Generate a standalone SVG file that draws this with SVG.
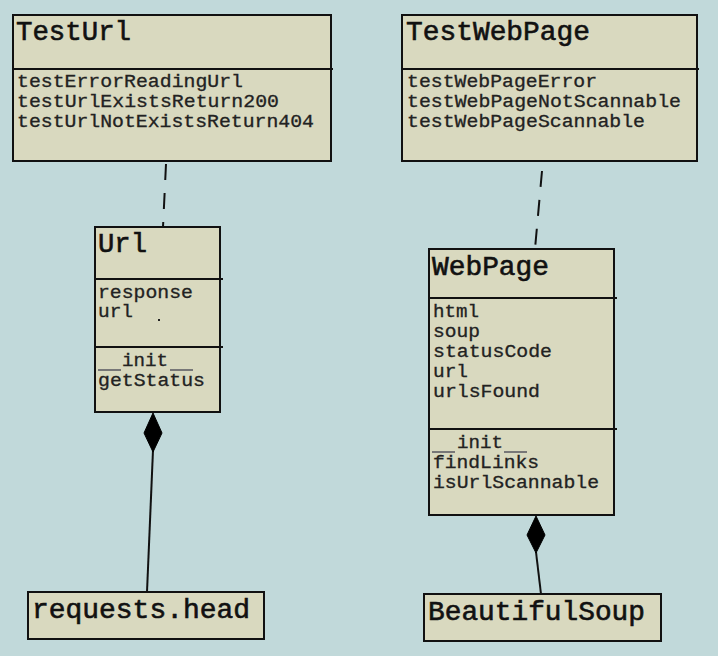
<svg xmlns="http://www.w3.org/2000/svg" width="718" height="656" viewBox="0 0 718 656">
<style>
.box{fill:#d9d9bf;stroke:#111;stroke-width:2}
.div{stroke:#111;stroke-width:2}
.t{font-family:"Liberation Mono","Courier New",monospace;font-size:27px;fill:#111;stroke:#111;stroke-width:0.6}
.m{font-family:"Liberation Mono","Courier New",monospace;font-size:18px;fill:#222;stroke:#222;stroke-width:0.3}
.us{stroke:#777;stroke-width:2}
.dash{stroke:#111;stroke-width:2;stroke-dasharray:16 13;fill:none}
.comp{stroke:#111;stroke-width:2;fill:none}
.dia{fill:#000;stroke:#000;stroke-width:1}
</style>
<rect width="718" height="656" fill="#c1d9da"/>
<g id="connectors">
<line class="dash" x1="166" y1="164" x2="163" y2="227"/>
<line class="dash" x1="542" y1="171" x2="535" y2="249"/>
<line class="comp" x1="153" y1="450" x2="147" y2="592"/>
<polygon class="dia" points="153,413 162,433 153,452 144,433"/>
<line class="comp" x1="536" y1="552" x2="541" y2="594"/>
<polygon class="dia" points="536,516 545,535 536,553 527,535"/>
</g>
<g id="TestUrl">
<rect class="box" x="13" y="15" width="318" height="146"/>
<line class="div" x1="13" y1="69" x2="333" y2="69"/>
<text class="t" x="16" y="40" textLength="115" lengthAdjust="spacingAndGlyphs">TestUrl</text>
<text class="m" x="17" y="87" textLength="226" lengthAdjust="spacingAndGlyphs">testErrorReadingUrl</text>
<text class="m" x="17" y="107" textLength="262" lengthAdjust="spacingAndGlyphs">testUrlExistsReturn200</text>
<text class="m" x="17" y="127" textLength="297" lengthAdjust="spacingAndGlyphs">testUrlNotExistsReturn404</text>
</g>
<g id="TestWebPage">
<rect class="box" x="402" y="15" width="295" height="146"/>
<line class="div" x1="402" y1="69" x2="699" y2="69"/>
<text class="t" x="406" y="40" textLength="184" lengthAdjust="spacingAndGlyphs">TestWebPage</text>
<text class="m" x="407" y="87" textLength="190" lengthAdjust="spacingAndGlyphs">testWebPageError</text>
<text class="m" x="407" y="107" textLength="274" lengthAdjust="spacingAndGlyphs">testWebPageNotScannable</text>
<text class="m" x="407" y="127" textLength="238" lengthAdjust="spacingAndGlyphs">testWebPageScannable</text>
</g>
<g id="Url">
<rect class="box" x="95" y="227" width="125" height="185"/>
<line class="div" x1="95" y1="279" x2="223" y2="279"/>
<line class="div" x1="95" y1="347" x2="223" y2="347"/>
<text class="t" x="98" y="252" textLength="49" lengthAdjust="spacingAndGlyphs">Url</text>
<text class="m" x="98" y="298" textLength="95" lengthAdjust="spacingAndGlyphs">response</text>
<text class="m" x="98" y="317" textLength="35" lengthAdjust="spacingAndGlyphs">url</text>
<rect x="158" y="319" width="2" height="2" fill="#222"/>
<text class="m" x="122" y="366" textLength="46" lengthAdjust="spacingAndGlyphs">init</text>
<line class="us" x1="98" y1="370" x2="121" y2="370"/>
<line class="us" x1="170" y1="370" x2="193" y2="370"/>
<text class="m" x="98" y="386" textLength="107" lengthAdjust="spacingAndGlyphs">getStatus</text>
</g>
<g id="WebPage">
<rect class="box" x="429" y="249" width="185" height="266"/>
<line class="div" x1="429" y1="298" x2="617" y2="298"/>
<line class="div" x1="429" y1="429" x2="617" y2="429"/>
<text class="t" x="432" y="275" textLength="117" lengthAdjust="spacingAndGlyphs">WebPage</text>
<text class="m" x="433" y="317" textLength="46" lengthAdjust="spacingAndGlyphs">html</text>
<text class="m" x="433" y="337" textLength="47" lengthAdjust="spacingAndGlyphs">soup</text>
<text class="m" x="433" y="357" textLength="119" lengthAdjust="spacingAndGlyphs">statusCode</text>
<text class="m" x="433" y="377" textLength="35" lengthAdjust="spacingAndGlyphs">url</text>
<text class="m" x="433" y="397" textLength="107" lengthAdjust="spacingAndGlyphs">urlsFound</text>
<text class="m" x="457" y="448" textLength="46" lengthAdjust="spacingAndGlyphs">init</text>
<line class="us" x1="432" y1="452" x2="455" y2="452"/>
<line class="us" x1="504" y1="452" x2="527" y2="452"/>
<text class="m" x="433" y="468" textLength="106" lengthAdjust="spacingAndGlyphs">findLinks</text>
<text class="m" x="433" y="488" textLength="166" lengthAdjust="spacingAndGlyphs">isUrlScannable</text>
</g>
<g id="requests_head">
<rect class="box" x="28" y="592" width="236" height="47"/>
<text class="t" x="32" y="618" textLength="218" lengthAdjust="spacingAndGlyphs">requests.head</text>
</g>
<g id="BeautifulSoup">
<rect class="box" x="424" y="594" width="237" height="47"/>
<text class="t" x="428" y="620" textLength="217" lengthAdjust="spacingAndGlyphs">BeautifulSoup</text>
</g>
</svg>
